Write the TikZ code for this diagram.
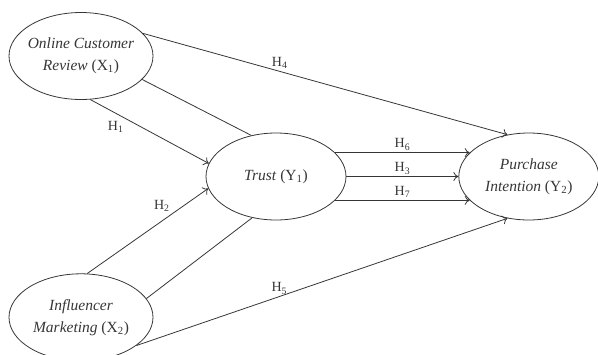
\documentclass[tikz,border=0pt]{standalone}
\usepackage{fontspec}
\setmainfont{Liberation Serif}
\usetikzlibrary{arrows.meta, positioning, shapes.geometric}
\definecolor{ink}{HTML}{363636}

\begin{document}
\begin{tikzpicture}[x=1pt, y=-1pt, >={To[length=5pt, width=9pt]}, line width=0.8pt, color=ink,
  construct/.style={draw, ellipse, minimum width=#1, minimum height=87pt, inner xsep=-15pt, inner ysep=0pt, align=center, font=\fontsize{15.5}{22}\selectfont},
  construct/.default=140pt,
  hyp/.style={font=\fontsize{14}{16}\selectfont, inner sep=2pt}]

  \useasboundingbox (0,0) rectangle (598,354);

  \node [construct=144pt] (review) at (81,56) {\textit{Online Customer}\\ \textit{Review} (X\textsubscript{1})};
  \node [construct=144pt, below=173.5pt of review] (influencer) {\textit{Influencer}\\ \textit{Marketing} (X\textsubscript{2})};
  \node [construct] (trust) at (276,176.5) {\textit{Trust} (Y\textsubscript{1})};
  \node [construct, right=112pt of trust] (intention) {\textit{Purchase}\\ \textit{Intention} (Y\textsubscript{2})};

  \draw [->] (review.-78) -- node[hyp, pos=.3, below left] {H\textsubscript{1}} (trust.169);
  \draw (review.-21) -- (trust.121);
  \draw [->] (review.20) -- node[hyp, pos=.375, above] {H\textsubscript{4}} (intention.117);
  \draw [->] (influencer.82) -- node[hyp, pos=.7, above left] {H\textsubscript{2}} (trust.190);
  \draw (influencer.16) -- (trust.-120);
  \draw [->] (influencer.-27) -- node[hyp, pos=.385, above] {H\textsubscript{5}} (intention.-117);
  \draw [->] (trust.22) -- node[hyp, above] {H\textsubscript{6}} (intention.158);
  \draw [->] (trust.east) -- node[hyp, above] {H\textsubscript{3}} (intention.west);
  \draw [->] (trust.-22) -- node[hyp, above] {H\textsubscript{7}} (intention.-158);
\end{tikzpicture}
\end{document}
